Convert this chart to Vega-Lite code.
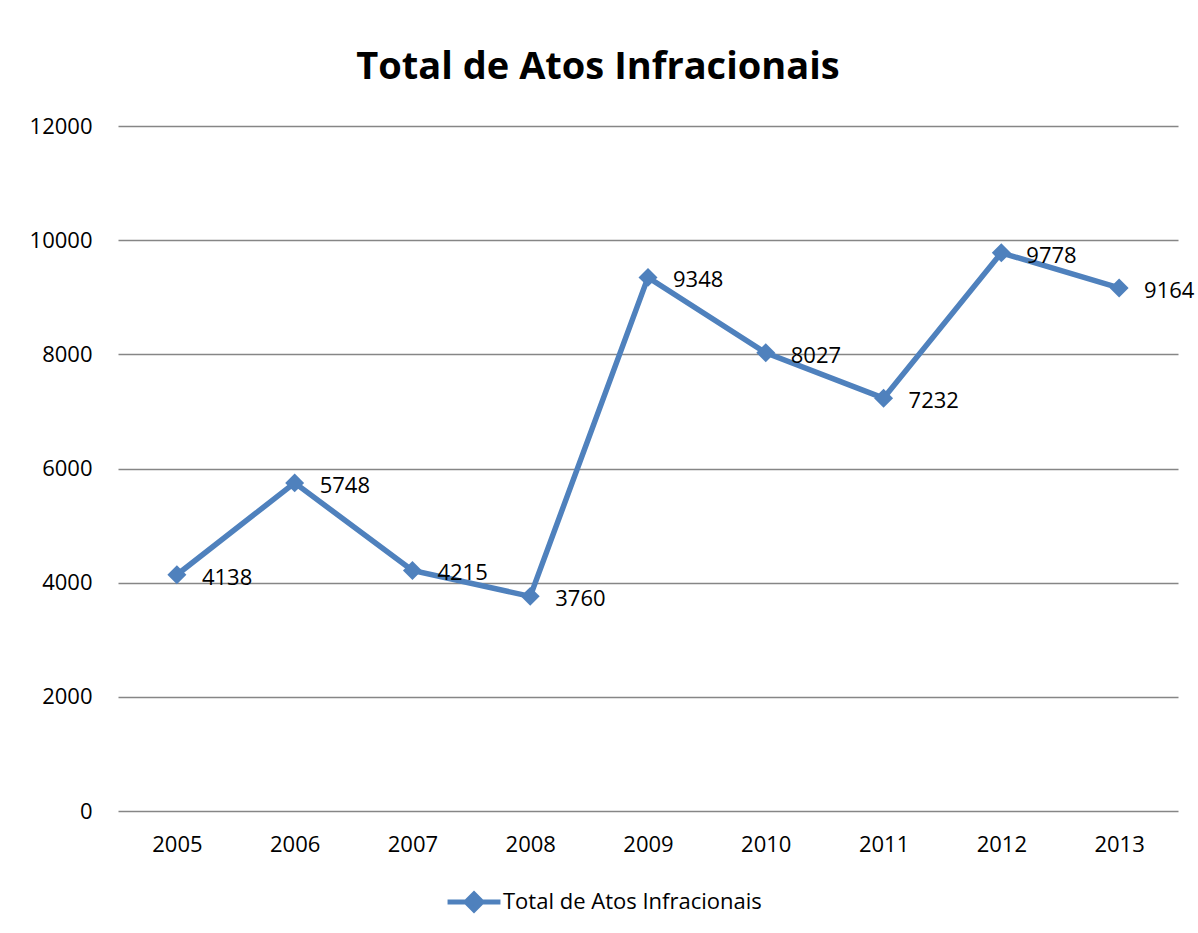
{
  "$schema": "https://vega.github.io/schema/vega-lite/v6.json",
  "width": 1060,
  "height": 685,
  "autosize": "none",
  "padding": {"left": 118, "top": 126, "right": 20, "bottom": 122},
  "background": "white",
  "title": {
    "text": "Total de Atos Infracionais",
    "font": "Open Sans",
    "fontSize": 38,
    "fontWeight": "bold",
    "color": "#000000",
    "anchor": "middle",
    "dx": -50,
    "offset": 28
  },
  "data": {
    "values": [
      {"ano": "2005", "total": 4138, "serie": "Total de Atos Infracionais"},
      {"ano": "2006", "total": 5748, "serie": "Total de Atos Infracionais"},
      {"ano": "2007", "total": 4215, "serie": "Total de Atos Infracionais"},
      {"ano": "2008", "total": 3760, "serie": "Total de Atos Infracionais"},
      {"ano": "2009", "total": 9348, "serie": "Total de Atos Infracionais"},
      {"ano": "2010", "total": 8027, "serie": "Total de Atos Infracionais"},
      {"ano": "2011", "total": 7232, "serie": "Total de Atos Infracionais"},
      {"ano": "2012", "total": 9778, "serie": "Total de Atos Infracionais"},
      {"ano": "2013", "total": 9164, "serie": "Total de Atos Infracionais"}
    ]
  },
  "encoding": {
    "x": {
      "field": "ano",
      "type": "ordinal",
      "title": null,
      "scale": {"paddingInner": 0, "paddingOuter": 0.5},
      "axis": {
        "labelAngle": 0,
        "labelFont": "Open Sans",
        "labelFontSize": 22,
        "labelColor": "#000000",
        "labelPadding": 23,
        "ticks": false,
        "domain": false,
        "grid": false
      }
    },
    "y": {
      "field": "total",
      "type": "quantitative",
      "title": null,
      "scale": {"domain": [0, 12000], "nice": false},
      "axis": {
        "values": [0, 2000, 4000, 6000, 8000, 10000, 12000],
        "format": "d",
        "labelFont": "Open Sans",
        "labelFontSize": 22,
        "labelColor": "#000000",
        "labelPadding": 26,
        "ticks": false,
        "domain": false,
        "grid": true,
        "gridColor": "#868686",
        "gridWidth": 1.5
      }
    }
  },
  "layer": [
    {
      "mark": {
        "type": "line",
        "strokeWidth": 5.5,
        "point": {"shape": "diamond", "size": 360, "filled": true, "opacity": 1}
      },
      "encoding": {
        "color": {
          "field": "serie",
          "type": "nominal",
          "scale": {"range": ["#4F81BD"]},
          "legend": {
            "title": null,
            "orient": "none",
            "legendX": 327,
            "legendY": 747,
            "labelFont": "Open Sans",
            "labelFontSize": 22,
            "labelColor": "#000000",
            "labelLimit": 0,
            "symbolType": "M-1,0L1,0M0,-0.3L0.3,0L0,0.3L-0.3,0Z",
            "symbolSize": 2800,
            "symbolStrokeWidth": 5,
            "symbolStrokeColor": "#4F81BD",
            "symbolFillColor": "#4F81BD",
            "labelOffset": 0
          }
        }
      }
    },
    {
      "mark": {
        "type": "text",
        "align": "left",
        "baseline": "middle",
        "dx": 25,
        "dy": 3,
        "font": "Open Sans",
        "fontSize": 22,
        "color": "#000000"
      },
      "encoding": {
        "text": {"field": "total", "type": "quantitative", "format": "d"}
      }
    }
  ],
  "config": {"view": {"stroke": null}}
}
